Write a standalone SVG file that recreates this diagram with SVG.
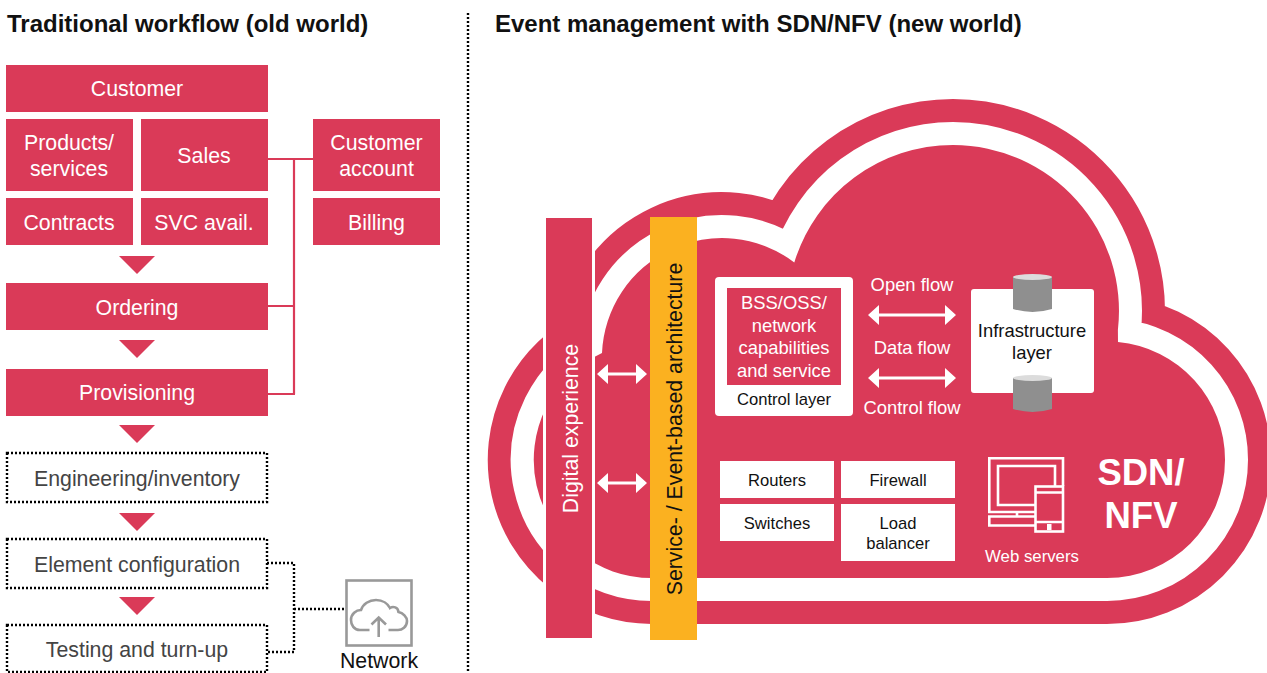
<svg xmlns="http://www.w3.org/2000/svg" width="1267" height="673" viewBox="0 0 1267 673">
<style>
text{font-family:"Liberation Sans",Arial,sans-serif;text-anchor:middle}
.r{fill:#da3a58}.w{fill:#fff}
.t21{font-size:21.3px}.tw{fill:#fff}.tk{fill:#111}.tg{fill:#444}
.t18{font-size:18.4px}.t16{font-size:16.6px}
.title{font-size:24px;font-weight:bold;text-anchor:start;fill:#111}
.big{font-size:36.5px;font-weight:bold;fill:#fff}
.dot{fill:none;stroke:#000;stroke-width:2.4;stroke-dasharray:2 2}
.box{fill:none;stroke:#000;stroke-width:2.4;stroke-dasharray:2 2}
.cyl{fill:#8f8f8f}.cyt{fill:#dcdcdc}
.ico{fill:none;stroke:#fff;stroke-width:2.6}
.net{fill:none;stroke:#999;stroke-width:2.6}
</style>
<defs>
<path id="tri" d="M-18 0H18L0 18Z"/>
<path id="dbl" d="M0 0L11 -10V-1.5H77V-10L88 0L77 10V1.5H11V10Z"/>
<path id="dbs" d="M0 0L11 -10V-1.5H39V-10L50 0L39 10V1.5H11V10Z"/>
<path id="cloudp" d="M652 578A118 118 0 0 1 602 353A120 120 0 0 1 794.300 262.400A166 166 0 0 1 953 145A166 166 0 0 1 1117.900 329.900L1118 342A118 118 0 0 1 1225 460A118 118 0 0 1 1107 578Z"/>
</defs>
<rect width="1267" height="673" fill="#fff"/>

<text class="title" x="7" y="32">Traditional workflow (old world)</text>
<text class="title" x="495" y="32">Event management with SDN/NFV (new world)</text>

<g id="connectors">
<path d="M468 13V673" class="dot"/>
<path d="M268 159H313M294 159V394M268 306H294M268 394H295" fill="none" stroke="#da3a58" stroke-width="2.200"/>
<path d="M267 563H294V652H267M294 609H347" class="dot"/>
<use href="#tri" x="137" y="256" class="r"/>
<use href="#tri" x="137" y="340" class="r"/>
<use href="#tri" x="137" y="425" class="r"/>
<use href="#tri" x="137" y="513" class="r"/>
<use href="#tri" x="137" y="597" class="r"/>
</g>

<g id="customer"><rect class="r" x="6" y="65" width="262" height="47"/><text class="t21 tw" x="137" y="96">Customer</text></g>
<g id="products"><rect class="r" x="6" y="119" width="127" height="72"/><text class="t21 tw" x="69" y="150">Products/</text><text class="t21 tw" x="69" y="176">services</text></g>
<g id="sales"><rect class="r" x="141" y="119" width="127" height="72"/><text class="t21 tw" x="204" y="163">Sales</text></g>
<g id="contracts"><rect class="r" x="6" y="198" width="127" height="47"/><text class="t21 tw" x="69" y="230">Contracts</text></g>
<g id="svc"><rect class="r" x="141" y="198" width="127" height="47"/><text class="t21 tw" x="204" y="230">SVC avail.</text></g>
<g id="account"><rect class="r" x="313" y="119" width="127" height="72"/><text class="t21 tw" x="376.500" y="150">Customer</text><text class="t21 tw" x="376.500" y="176">account</text></g>
<g id="billing"><rect class="r" x="313" y="198" width="127" height="47"/><text class="t21 tw" x="376.500" y="230">Billing</text></g>
<g id="ordering"><rect class="r" x="6" y="283" width="262" height="47"/><text class="t21 tw" x="137" y="315">Ordering</text></g>
<g id="provisioning"><rect class="r" x="6" y="369" width="262" height="47"/><text class="t21 tw" x="137" y="400">Provisioning</text></g>
<g id="engineering"><rect class="box" x="7" y="453" width="260" height="49"/><text class="t21 tg" x="137" y="486">Engineering/inventory</text></g>
<g id="element"><rect class="box" x="7" y="539" width="260" height="49"/><text class="t21 tg" x="137" y="572">Element configuration</text></g>
<g id="testing"><rect class="box" x="7" y="625" width="260" height="47"/><text class="t21 tg" x="137" y="657">Testing and turn-up</text></g>
<g id="network">
<rect class="net" x="346.500" y="580.500" width="65" height="65" stroke-width="3"/>
<path class="net" d="M369.500 630H360C354 630 351 625 351 620C351 614 356 610 361 610C363 604 369 600 376 600C383 600 388 604 390 608C393 606 398 607 398.500 612C403 613 407 617 407 621C407 627 402 630 398 630H388.500"/>
<path class="net" d="M378.700 637V617.500M371.500 624.500L378.700 617.500L386 624.500"/>
<text class="t21 tk" x="379" y="668">Network</text>
</g>

<g id="cloud">
<use href="#cloudp" fill="none" stroke="#da3a58" stroke-width="92"/>
<use href="#cloudp" fill="none" stroke="#fff" stroke-width="46"/>
<use href="#cloudp" class="r"/>
<rect class="w" x="543" y="200" width="52" height="440"/>
</g>
<g id="digital"><rect class="r" x="546" y="218" width="46" height="420"/><text class="tw" font-size="21.300" transform="translate(578 428.500) rotate(-90)">Digital experience</text></g>
<g id="service"><rect x="650" y="217" width="47" height="423" fill="#fbb120"/><text class="tk" font-size="21.300" transform="translate(682 429) rotate(-90)">Service- / Event-based architecture</text></g>
<g id="arrows" class="w">
<use href="#dbs" x="597" y="374"/>
<use href="#dbs" x="597" y="483"/>
<use href="#dbl" x="868" y="315"/>
<use href="#dbl" x="868" y="378"/>
</g>
<g id="control"><rect class="w" x="715" y="277" width="138" height="139" rx="4"/><rect class="r" x="727" y="288" width="114" height="97"/>
<text class="t18 tw" x="784" y="309">BSS/OSS/</text><text class="t18 tw" x="784" y="332">network</text><text class="t18 tw" x="784" y="354">capabilities</text><text class="t18 tw" x="784" y="377">and service</text>
<text class="t16 tk" x="784" y="405">Control layer</text></g>
<g id="flows"><text class="t18 tw" x="912" y="291">Open flow</text><text class="t18 tw" x="912" y="354">Data flow</text><text class="t18 tw" x="912" y="413.500">Control flow</text></g>
<g id="infrastructure"><rect class="w" x="971" y="289" width="123" height="104" rx="3"/>
<path class="cyl" d="M1013 277V309Q1032.500 315 1052 309V277Z"/><ellipse class="cyt" cx="1032.500" cy="277" rx="19.500" ry="3"/>
<path class="cyl" d="M1013 378V409Q1032.500 415 1052 409V378Z"/><ellipse class="cyt" cx="1032.500" cy="378" rx="19.500" ry="3"/>
<text class="t18 tk" x="1032" y="337">Infrastructure</text><text class="t18 tk" x="1032" y="359">layer</text></g>
<g id="routers"><rect class="w" x="720" y="461" width="114" height="37"/><text class="t16 tk" x="777" y="486">Routers</text></g>
<g id="switches"><rect class="w" x="720" y="504" width="114" height="37"/><text class="t16 tk" x="777" y="529">Switches</text></g>
<g id="firewall"><rect class="w" x="841" y="461" width="114" height="37"/><text class="t16 tk" x="898" y="486">Firewall</text></g>
<g id="balancer"><rect class="w" x="841" y="504" width="114" height="57"/><text class="t16 tk" x="898" y="529">Load</text><text class="t16 tk" x="898" y="549">balancer</text></g>
<g id="webservers">
<path class="ico" d="M1035.500 512H989.300V458.300H1063V486M1055 486V466H998V505H1035.500M1017 512V516.500M1035.500 516.500H989.300V525.500H1035.500"/>
<rect class="ico" x="1035.500" y="486.500" width="27.500" height="45"/>
<path class="ico" d="M1035.500 492.500H1063M1035.500 522H1063"/>
<rect class="w" x="1047" y="524" width="4.500" height="6"/>
<text class="tw" x="1032" y="562" font-size="16.800">Web servers</text>
</g>
<g id="sdn"><text class="big" x="1141" y="485">SDN/</text><text class="big" x="1141" y="528">NFV</text></g>
</svg>
